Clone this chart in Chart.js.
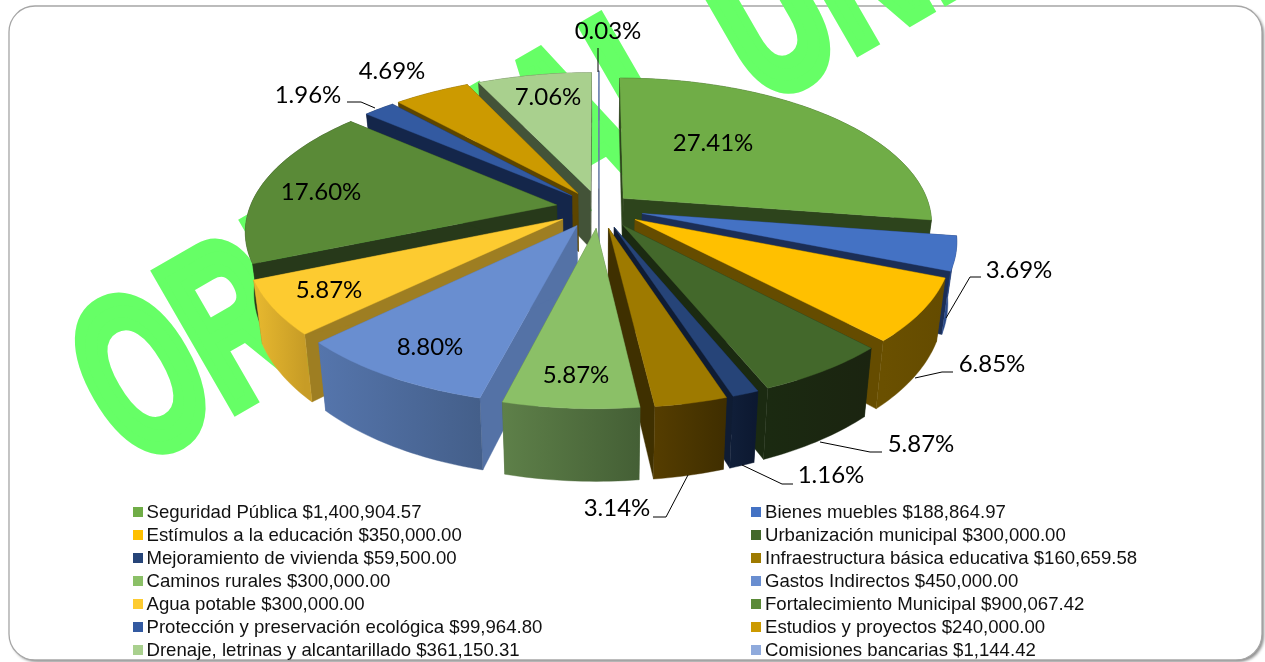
<!DOCTYPE html>
<html><head><meta charset="utf-8">
<style>html,body{margin:0;padding:0;background:#fff}canvas{display:block}</style>
<script src="https://cdn.jsdelivr.net/npm/chart.js@4"></script>
</head><body>
<canvas id="c" width="1265" height="662"></canvas>
<script>
const categories = ["Seguridad Pública","Bienes muebles","Estímulos a la educación","Urbanización municipal","Mejoramiento de vivienda","Infraestructura básica educativa","Caminos rurales","Gastos Indirectos","Agua potable","Fortalecimiento Municipal","Protección y preservación ecológica","Estudios y proyectos","Drenaje, letrinas y alcantarillado","Comisiones bancarias"];
const amounts = [1400904.57,188864.97,350000,300000,59500,160659.58,300000,450000,300000,900067.42,99964.80,240000,361150.31,1144.42];
const percentLabels = ["27.41%","3.69%","6.85%","5.87%","1.16%","3.14%","5.87%","8.80%","5.87%","17.60%","1.96%","4.69%","7.06%","0.03%"];

const topColors = ["#70AD47","#4472C4","#FFC000","#43682B","#264478","#9E7A00","#8BC067","#698ED0","#FDCB30","#5A8A37","#335AA1","#CC9A00","#A9D08E","#8FAADC"];
const radialColors = ["#2D441C","#1B2E56","#654C00","#1B2A11","#0F1C33","#3F3000","#4F6B3C","#5472A6","#9E7E22","#27391A","#14264A","#5C4500","#435338","#3A4A70"];
const outerFrom = ["#2D441C","#2A4A8A","#6A5000","#1B2A11","#101E38","#553D00","#5E8049","#5575AC","#E8B92F","#27391A","#14264A","#5C4500","#435338","#3A4A70"];
const outerTo = ["#2D441C","#1B2E56","#644B00","#1B2410","#0C1830","#3F2E00","#445F35","#445F8A","#C79C26","#27391A","#14264A","#5C4500","#435338","#3A4A70"];
const sliceExplode = [0.105,0.145,0.14,0.14,0.14,0.14,0.14,0.14,0.14,0.14,0.125,0.125,0.125,0.14];
const labelSpots = [[713,143],[1019,270],[992,364],[921,444],[831,475],[617,508],[576,375],[430,347],[329,290],[321,192],[308,95],[392,71],[548,97],[608,31]];
const leaders = {1:[[946,318],[970,277],[981,277]],2:[[915,378],[942,372],[953,372]],3:[[820,442],[870,452],[882,452]],4:[[742,465],[782,484],[793,484]],5:[[688,475],[666,517],[653,517]],10:[[375,108],[361,102],[347,102]],13:[[598,48],[598,72]]};

const view = {cx:599, cy:208, ku:307, kv:143, persp:0.165, depth:59, shrink:0.975};

function project(u, v, low){
  const f = 1/(1+view.persp*v);
  let x = view.cx + view.ku*u*f;
  let y = view.cy - view.kv*v*f;
  if(low){ x = view.cx + (x-view.cx)*view.shrink; y += view.depth*f; }
  return [x,y];
}
function poly(ctx, pts, fill){
  ctx.beginPath();
  pts.forEach((p,i)=> i? ctx.lineTo(p[0],p[1]) : ctx.moveTo(p[0],p[1]));
  ctx.closePath();
  ctx.fillStyle = fill; ctx.fill();
  ctx.strokeStyle = fill; ctx.lineWidth = 0.4; ctx.stroke();
}

const pie3d = {
  id:'pie3d',
  beforeDraw(chart){
    const ctx = chart.ctx;
    ctx.save();
    ctx.fillStyle='#fff'; ctx.fillRect(0,0,1265,662);
    ctx.beginPath(); ctx.roundRect(9,6,1253,654,26);
    ctx.save();
    ctx.shadowColor='rgba(0,0,0,0.45)'; ctx.shadowBlur=3; ctx.shadowOffsetX=2; ctx.shadowOffsetY=2;
    ctx.fillStyle='#fff'; ctx.fill();
    ctx.restore();
    ctx.strokeStyle='#A6A6A6'; ctx.lineWidth=1.3; ctx.stroke();
    ctx.restore();
    // watermark
    ctx.save();
    ctx.translate(132,468); ctx.rotate(-30*Math.PI/180); ctx.scale(0.625,1);
    ctx.font='bold 225px "Liberation Sans"'; ctx.fillStyle='#66FF66'; ctx.strokeStyle='#66FF66';
    ctx.lineWidth=14; ctx.lineJoin='miter'; ctx.textBaseline='alphabetic';
    ctx.fillText('ORIGINAL UNICO',0,0);
    ctx.strokeText('ORIGINAL UNICO',0,0);
    ctx.restore();
  },
  beforeDatasetsDraw(chart){
    const ctx = chart.ctx, meta = chart.getDatasetMeta(0);
    const slices = meta.data.map((arc,i)=>{
      const s = arc.startAngle+Math.PI/2, e = arc.endAngle+Math.PI/2, m=(s+e)/2, x=sliceExplode[i];
      return {i,s,e,ou:x*Math.sin(m),ov:x*Math.cos(m),depth:Math.cos(m)};
    }).sort((a,b)=>b.depth-a.depth);
    ctx.save();
    for(const sl of slices){
      const n = Math.max(2,Math.ceil((sl.e-sl.s)/0.02));
      const rim=[], low=[];
      for(let k=0;k<=n;k++){
        const a = sl.s+(sl.e-sl.s)*k/n, u=sl.ou+Math.sin(a), v=sl.ov+Math.cos(a);
        rim.push(project(u,v,false)); low.push(project(u,v,true));
      }
      const ap=project(sl.ou,sl.ov,false), apLow=project(sl.ou,sl.ov,true);
      poly(ctx,[ap,rim[0],low[0],apLow],radialColors[sl.i]);
      poly(ctx,[ap,rim[n],low[n],apLow],radialColors[sl.i]);
      const xs = rim.map(p=>p[0]);
      const g = ctx.createLinearGradient(Math.min(...xs),0,Math.max(...xs)+0.01,0);
      g.addColorStop(0,outerFrom[sl.i]); g.addColorStop(1,outerTo[sl.i]);
      poly(ctx,rim.concat(low.slice().reverse()),g);
      poly(ctx,[ap].concat(rim),chart.data.datasets[0].backgroundColor[sl.i]);
    }
    ctx.restore();
    return false;
  },
  afterDraw(chart){
    const ctx = chart.ctx;
    ctx.save();
    ctx.strokeStyle='#000'; ctx.lineWidth=1;
    Object.values(leaders).forEach(l=>{
      ctx.beginPath(); l.forEach((p,i)=> i?ctx.lineTo(p[0],p[1]):ctx.moveTo(p[0],p[1])); ctx.stroke();
    });
    ctx.fillStyle='#000'; ctx.textAlign='center'; ctx.textBaseline='middle';
    ctx.font='24px Lato';
    percentLabels.forEach((t,i)=>ctx.fillText(t,labelSpots[i][0],labelSpots[i][1]));
    ctx.textAlign='left'; ctx.font='18.6px "Liberation Sans"';
    categories.forEach((c,i)=>{
      const col=i%2, row=(i-col)/2;
      const mx = col?751:133, tx = col?765:146.5, y=512+row*23;
      ctx.fillStyle=topColors[i]; ctx.fillRect(mx,y-5,10,10);
      ctx.fillStyle='#111';
      const amt = amounts[i].toLocaleString('en-US',{minimumFractionDigits:2,maximumFractionDigits:2});
      ctx.fillText(c+' $'+amt,tx,y+1);
    });
    ctx.restore();
  }
};

new Chart(document.getElementById('c'),{
  type:'pie',
  data:{labels:categories,datasets:[{data:amounts,backgroundColor:topColors,borderWidth:0}]},
  options:{responsive:false,animation:false,
    plugins:{legend:{display:false},tooltip:{enabled:false}}},
  plugins:[pie3d]
});
</script>
</body></html>
